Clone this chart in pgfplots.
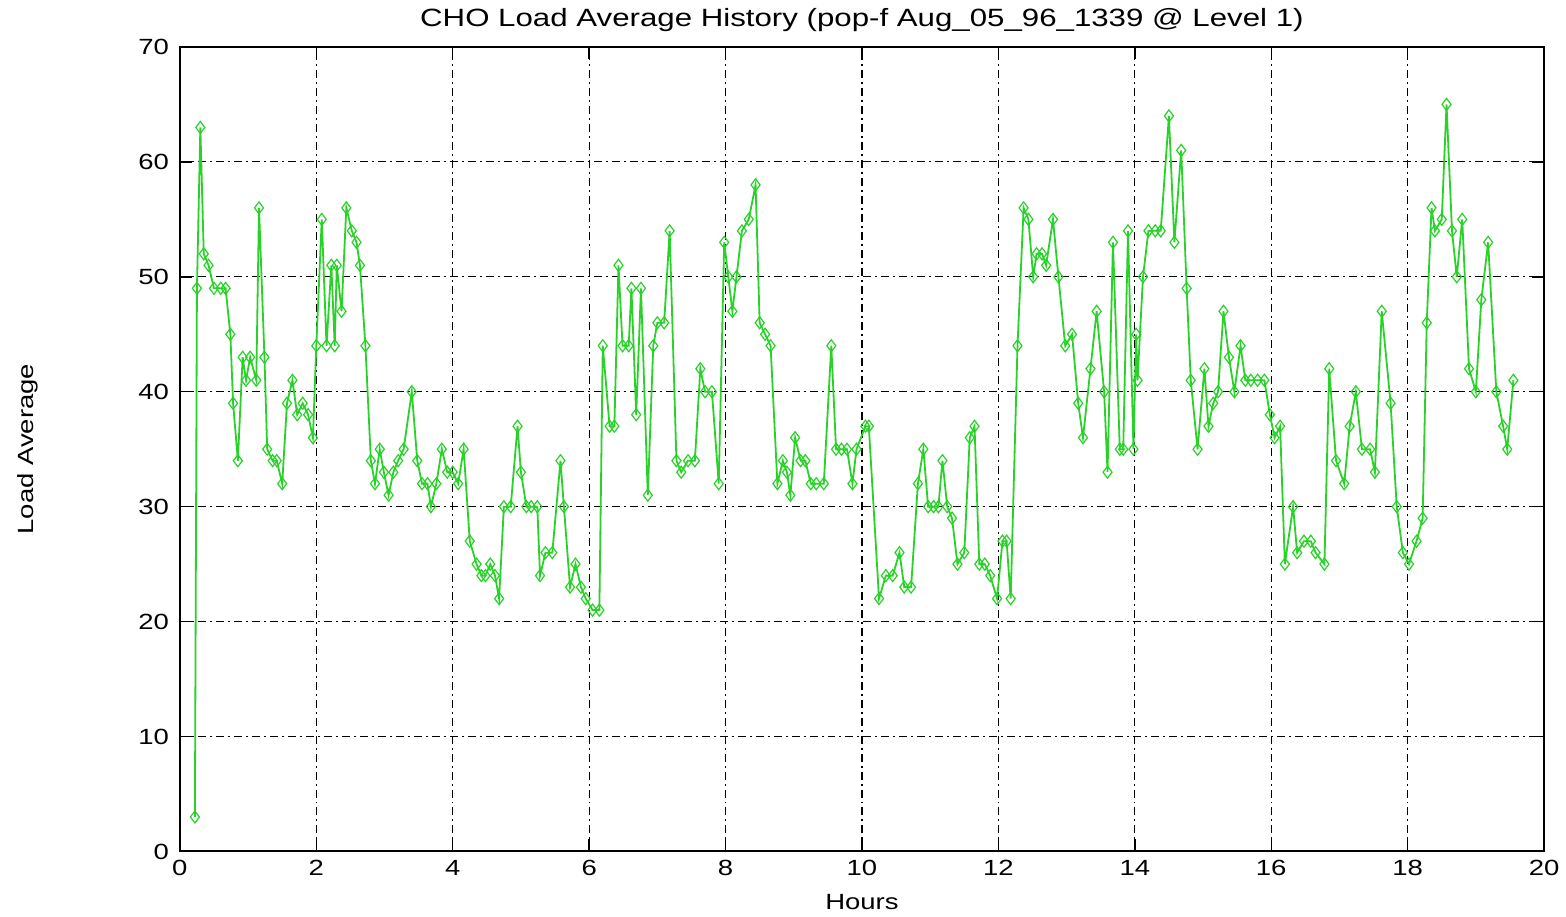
\documentclass[border=0pt]{standalone}
\usepackage{pgfplots}
\pgfplotsset{compat=1.18}
\usepackage{fontspec}
\setmainfont{Liberation Sans}[FakeStretch=1.25]

\definecolor{loadgreen}{RGB}{40,210,40}

\begin{document}
\begin{tikzpicture}
\begin{axis}[
  scale only axis,
  width=682.5pt, height=402.5pt,
  xmin=0, xmax=20, ymin=0, ymax=70,
  xtick={0,2,...,20}, ytick={0,10,...,70},
  tick align=inside, tick pos=both,
  major tick length=6pt,
  tick style={black, line width=0.7pt},
  axis line style={black, line width=1pt},
  xmajorgrids, ymajorgrids,
  major grid style={black, line width=0.6pt, dash pattern=on 4pt off 2pt on 1pt off 2pt},
  font=\fontsize{11}{13}\selectfont,
  /pgf/number format/assume math mode=true,
  title={CHO Load Average History (pop-f Aug\_05\_96\_1339 @ Level 1)},
  every axis title/.style={at={(axis description cs:0.5,1.0335)}, anchor=center, font=\fontsize{12.5}{14}\selectfont},
  xlabel={Hours},
  every axis x label/.style={at={(axis description cs:0.5,-0.0634)}, anchor=center},
  ylabel={Load Average},
  every axis y label/.style={at={(axis description cs:-0.1114,0.5)}, rotate=90, anchor=center},
  xticklabel style={yshift=-1pt},
  yticklabel style={xshift=-2pt},
]
\addplot [loadgreen, line width=0.9pt, mark=diamond, mark size=3pt, mark options={solid, line width=0.6pt}]
coordinates {
(0.22,3) (0.25,49) (0.30,63) (0.35,52) (0.42,51) (0.50,49) (0.60,49) (0.67,49)
(0.74,45) (0.78,39) (0.85,34) (0.92,43) (0.97,41) (1.03,43) (1.12,41) (1.16,56)
(1.24,43) (1.28,35) (1.36,34) (1.42,34) (1.50,32) (1.57,39) (1.65,41) (1.72,38)
(1.80,39) (1.88,38) (1.95,36) (2.00,44) (2.08,55) (2.15,44) (2.22,51) (2.27,44)
(2.30,51) (2.37,47) (2.44,56) (2.52,54) (2.59,53) (2.64,51) (2.72,44) (2.80,34)
(2.86,32) (2.93,35) (2.99,33) (3.06,31) (3.13,33) (3.20,34) (3.28,35) (3.40,40)
(3.48,34) (3.55,32) (3.63,32) (3.68,30) (3.76,32) (3.84,35) (3.92,33) (4.00,33)
(4.08,32) (4.16,35) (4.25,27) (4.35,25) (4.42,24) (4.48,24) (4.55,25) (4.62,24)
(4.68,22) (4.75,30) (4.85,30) (4.95,37) (5.00,33) (5.08,30) (5.15,30) (5.24,30)
(5.28,24) (5.36,26) (5.46,26) (5.58,34) (5.63,30) (5.72,23) (5.80,25) (5.88,23)
(5.95,22) (6.05,21) (6.15,21) (6.20,44) (6.30,37) (6.37,37) (6.43,51) (6.49,44)
(6.58,44) (6.62,49) (6.69,38) (6.76,49) (6.86,31) (6.94,44) (7.00,46) (7.10,46)
(7.18,54) (7.28,34) (7.35,33) (7.45,34) (7.55,34) (7.63,42) (7.70,40) (7.80,40)
(7.90,32) (7.98,53) (8.04,50) (8.10,47) (8.16,50) (8.24,54) (8.34,55) (8.44,58)
(8.50,46) (8.58,45) (8.66,44) (8.76,32) (8.84,34) (8.90,33) (8.95,31) (9.02,36)
(9.10,34) (9.17,34) (9.25,32) (9.33,32) (9.44,32) (9.55,44) (9.62,35) (9.70,35)
(9.78,35) (9.86,32) (9.92,35) (10.05,37) (10.10,37) (10.25,22) (10.35,24) (10.45,24)
(10.55,26) (10.62,23) (10.72,23) (10.82,32) (10.90,35) (10.97,30) (11.05,30) (11.12,30)
(11.18,34) (11.25,30) (11.32,29) (11.40,25) (11.50,26) (11.58,36) (11.65,37) (11.72,25)
(11.80,25) (11.88,24) (11.98,22) (12.06,27) (12.12,27) (12.18,22) (12.28,44) (12.37,56)
(12.44,55) (12.51,50) (12.56,52) (12.64,52) (12.70,51) (12.80,55) (12.88,50) (12.98,44)
(13.08,45) (13.17,39) (13.24,36) (13.35,42) (13.44,47) (13.55,40) (13.60,33) (13.68,53)
(13.78,35) (13.83,35) (13.90,54) (13.98,35) (14.02,45) (14.04,41) (14.12,50) (14.20,54)
(14.30,54) (14.38,54) (14.50,64) (14.58,53) (14.68,61) (14.76,49) (14.82,41) (14.92,35)
(15.02,42) (15.08,37) (15.15,39) (15.22,40) (15.30,47) (15.38,43) (15.46,40) (15.55,44)
(15.62,41) (15.70,41) (15.80,41) (15.90,41) (15.98,38) (16.05,36) (16.13,37) (16.20,25)
(16.32,30) (16.38,26) (16.48,27) (16.58,27) (16.65,26) (16.78,25) (16.85,42) (16.95,34)
(17.07,32) (17.15,37) (17.24,40) (17.33,35) (17.45,35) (17.52,33) (17.62,47) (17.75,39)
(17.84,30) (17.93,26) (18.02,25) (18.13,27) (18.22,29) (18.28,46) (18.35,56) (18.40,54)
(18.50,55) (18.57,65) (18.65,54) (18.72,50) (18.80,55) (18.90,42) (19.00,40) (19.08,48)
(19.18,53) (19.30,40) (19.40,37) (19.46,35) (19.55,41)
};
\end{axis}
\path (current axis.south west) ++(-90pt,-32pt) rectangle ([shift={(10.5pt,23.5pt)}]current axis.north east);
\end{tikzpicture}
\end{document}
